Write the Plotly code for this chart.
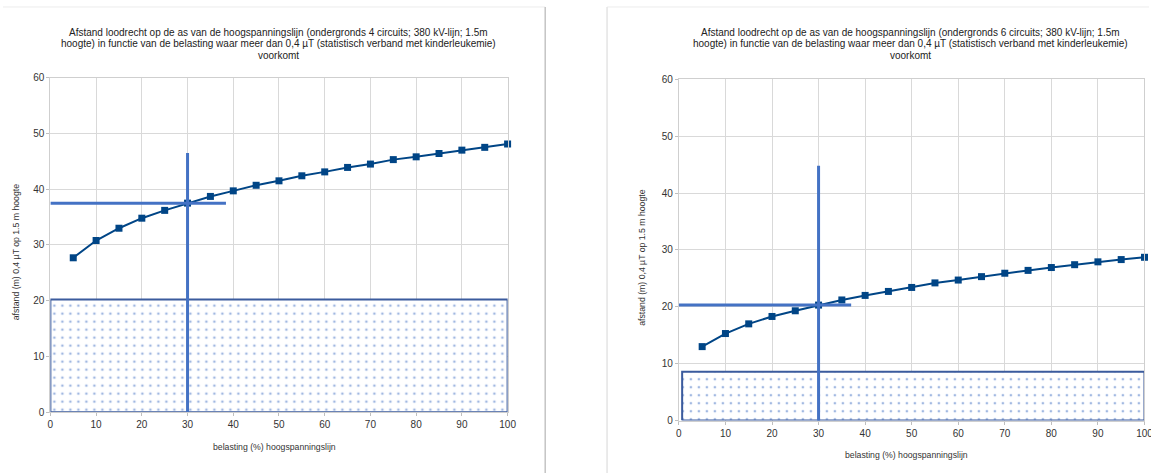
import plotly.graph_objects as go

# ---------------- data ----------------
belasting = [5, 10, 15, 20, 25, 30, 35, 40, 45, 50, 55, 60, 65, 70, 75, 80, 85, 90, 95, 100]
afstand_4c = [27.7, 30.8, 33.0, 34.8, 36.2, 37.5, 38.7, 39.7, 40.7, 41.5, 42.4, 43.1, 43.9, 44.5,
              45.3, 45.8, 46.4, 47.0, 47.5, 48.1]
afstand_6c = [13.0, 15.3, 17.0, 18.3, 19.3, 20.3, 21.2, 22.0, 22.7, 23.4, 24.2, 24.7, 25.3, 25.9,
              26.4, 26.9, 27.4, 27.9, 28.3, 28.7]

# reference zone (dotted band) : [x_start, x_end], top
band_x_4c = [0, 100]
band_top_4c = 20.2
band_x_6c = [0.7, 100]
band_top_6c = 8.6

# reading cross at 30 % load
cross_load = 30
cross_4c = dict(value=37.5, h_start=0, h_end=38.4, v_bottom=0, v_top=46.5)
cross_6c = dict(value=20.3, h_start=-0.5, h_end=37.0, v_bottom=-0.5, v_top=44.8)

title_4c = ["Afstand loodrecht op de as van de hoogspanningslijn (ondergronds 4 circuits; 380 kV-lijn; 1.5m",
            "hoogte) in functie van de belasting waar meer dan 0,4 µT (statistisch verband met kinderleukemie)",
            "voorkomt"]
title_6c = ["Afstand loodrecht op de as van de hoogspanningslijn (ondergronds 6 circuits; 380 kV-lijn; 1.5m",
            "hoogte) in functie van de belasting waar meer dan 0,4 µT (statistisch verband met kinderleukemie)",
            "voorkomt"]
x_title = "belasting (%) hoogspanningslijn"
y_title = "afstand (m) 0,4 µT op 1.5 m hoogte"

x_ticks = [0, 10, 20, 30, 40, 50, 60, 70, 80, 90, 100]
y_ticks = [0, 10, 20, 30, 40, 50, 60]

# ---------------- styling / placement ----------------
W, H = 1158, 480
# observed page -> picture mapping of the capture (picture = off + scale * page)
SX, OX = 0.992, 2.5
SY, OY = 0.976, 5.0
FONT = "Liberation Sans, Arial, sans-serif"
SERIES = "#004586"
CROSS = "#4472c4"
BAND_LINE = "#3b5b9d"
GRID = "#d9d9d9"


def px_x(t):
    return min(1.0, max(0.0, ((t - OX) / SX) / W))


def px_y(t):
    return min(1.0, max(0.0, 1 - ((t - OY) / SY) / H))


fig = go.Figure()


def add_panel(xa, ya, values, band_x, band_top, cross):
    # dotted band
    fig.add_trace(go.Scatter(
        x=[band_x[0], band_x[1], band_x[1], band_x[0], band_x[0]],
        y=[0, 0, band_top, band_top, 0],
        mode="lines", fill="toself",
        fillcolor="rgba(255,255,255,0)",
        fillpattern=dict(shape=".", fgcolor=CROSS, bgcolor="white", size=8, solidity=0.09),
        line=dict(color=BAND_LINE, width=2),
        xaxis=xa, yaxis=ya, showlegend=False, hoverinfo="skip", cliponaxis=False))
    # data series
    fig.add_trace(go.Scatter(
        x=belasting, y=values, mode="lines+markers",
        line=dict(color=SERIES, width=2),
        marker=dict(symbol="square", size=7, color=SERIES),
        xaxis=xa, yaxis=ya, showlegend=False, cliponaxis=False))
    # cross lines
    fig.add_trace(go.Scatter(
        x=[cross["h_start"], cross["h_end"]], y=[cross["value"], cross["value"]], mode="lines",
        line=dict(color=CROSS, width=3), xaxis=xa, yaxis=ya, showlegend=False,
        hoverinfo="skip", cliponaxis=False))
    fig.add_trace(go.Scatter(
        x=[cross_load, cross_load], y=[cross["v_bottom"], cross["v_top"]], mode="lines",
        line=dict(color=CROSS, width=3), xaxis=xa, yaxis=ya, showlegend=False,
        hoverinfo="skip", cliponaxis=False))


add_panel("x", "y", afstand_4c, band_x_4c, band_top_4c, cross_4c)
add_panel("x2", "y2", afstand_6c, band_x_6c, band_top_6c, cross_6c)

axis_common = dict(
    showgrid=True, gridcolor=GRID, gridwidth=1, zeroline=False,
    showline=True, linecolor="#cfcfcf", linewidth=1, mirror=True,
    ticks="outside", ticklen=3, tickcolor="#bfbfbf",
    tickfont=dict(family=FONT, size=10, color="#333333"),
)

x_dom_1 = [px_x(50), px_x(508.3)]
y_dom_1 = [px_y(411.7), px_y(76.7)]
x_dom_2 = [px_x(680), px_x(1146.7)]
y_dom_2 = [px_y(420), px_y(78.3)]

fig.update_layout(
    width=W, height=H,
    margin=dict(l=0, r=0, t=0, b=0),
    paper_bgcolor="white", plot_bgcolor="white",
    font=dict(family=FONT, color="#333333"),
    xaxis=dict(domain=x_dom_1, range=[0, 100], tickvals=x_ticks, anchor="y", **axis_common),
    yaxis=dict(domain=y_dom_1, range=[0, 60], tickvals=y_ticks, anchor="x", **axis_common),
    xaxis2=dict(domain=x_dom_2, range=[0, 100], tickvals=x_ticks, anchor="y2", **axis_common),
    yaxis2=dict(domain=y_dom_2, range=[0, 60], tickvals=y_ticks, anchor="x2", **axis_common),
)

annots = []
# titles (one annotation per line, to match the tight line spacing)
for lines, cx in [(title_4c, 279), (title_6c, 912)]:
    for line, py in zip(lines, [31.5, 43, 54.5]):
        annots.append(dict(text=line, x=px_x(cx), y=px_y(py), xref="paper", yref="paper",
                           xanchor="center", yanchor="middle", showarrow=False,
                           font=dict(family=FONT, size=10, color="#222222")))
# x-axis titles
for cx, py in [(275, 446), (908, 454)]:
    annots.append(dict(text=x_title, x=px_x(cx), y=px_y(py), xref="paper", yref="paper",
                       xanchor="center", yanchor="middle", showarrow=False,
                       font=dict(family=FONT, size=8.7, color="#333333")))
# y-axis titles
for cx, py in [(15, 251), (643, 257)]:
    annots.append(dict(text=y_title, x=px_x(cx), y=px_y(py), xref="paper", yref="paper",
                       xanchor="center", yanchor="middle", showarrow=False, textangle=-90,
                       font=dict(family=FONT, size=8.7, color="#333333")))
fig.update_layout(annotations=annots)

# screenshot frames
fig.update_layout(shapes=[
    dict(type="line", xref="paper", yref="paper", x0=0, x1=px_x(546), y0=px_y(6), y1=px_y(6),
         line=dict(color="#ececec", width=1)),
    dict(type="line", xref="paper", yref="paper", x0=px_x(546), x1=px_x(546), y0=px_y(6), y1=0,
         line=dict(color="#c4c4c4", width=1.5)),
    dict(type="line", xref="paper", yref="paper", x0=px_x(608), x1=1, y0=px_y(6), y1=px_y(6),
         line=dict(color="#ececec", width=1)),
    dict(type="line", xref="paper", yref="paper", x0=px_x(608), x1=px_x(608), y0=px_y(6), y1=0,
         line=dict(color="#e4e4e4", width=1.5)),
])

fig.write_html(
    "out.html",
    config={"displayModeBar": False},
    post_script="document.body.style.margin='0px';document.body.style.overflow='hidden';"
                "document.documentElement.style.overflow='hidden';",
)
